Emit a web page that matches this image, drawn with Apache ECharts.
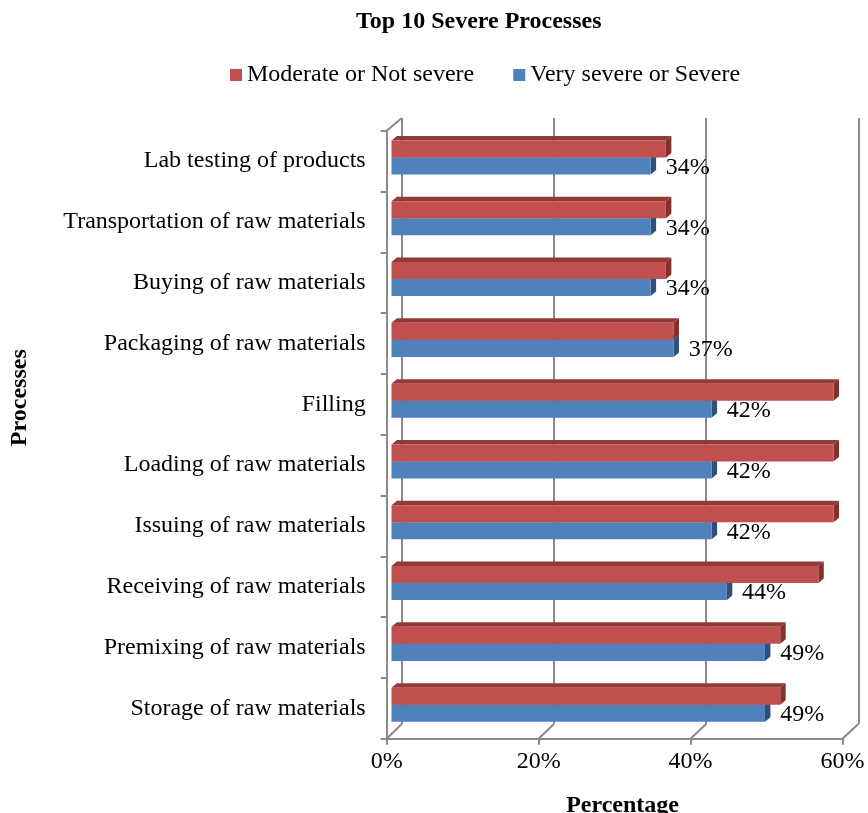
<!DOCTYPE html>
<html>
<head>
<meta charset="utf-8">
<script src="https://cdn.jsdelivr.net/npm/echarts@6/dist/echarts.min.js"></script>
<style>
  html, body { margin: 0; padding: 0; background: #fff; }
  #chart { width: 868px; height: 813px; }
</style>
</head>
<body>
<div id="chart"></div>
<script>
// Processes, listed top to bottom
const processes = [
  'Lab testing of products',
  'Transportation of raw materials',
  'Buying of raw materials',
  'Packaging of raw materials',
  'Filling',
  'Loading of raw materials',
  'Issuing of raw materials',
  'Receiving of raw materials',
  'Premixing of raw materials',
  'Storage of raw materials'
];
// Share of respondents (%)
const verySevere = [34, 34, 34, 37, 42, 42, 42, 44, 49, 49];
const moderate = [36, 36, 36, 37, 58, 58, 58, 56, 51, 51];
const percentTicks = [0, 20, 40, 60];

const seriesNames = ['Moderate or Not severe', 'Very severe or Severe'];
const FONT = "'Liberation Serif', 'Times New Roman', serif";
const FRAME = '#8a8a8a';

// Three overlaid grids: back wall, bars, front edges of the 3-D box
const layout = {
  back:  { left: 401.7, right: 9.7,  top: 118,   bottom: 89 },
  bars:  { left: 391.5, right: 19.2, top: 130.7, bottom: 74.3 },
  front: { left: 386.7, right: 25.5, top: 130.7, bottom: 74.3 }
};

// Extruded bar: front face, top face and right side face
function bar3d(face, top, side, slot, withLabel) {
  return function (params, api) {
    const i = api.value(0);
    const v = api.value(1);
    const p0 = api.coord([0, i]);
    const p1 = api.coord([v, i]);
    const band = api.size([0, 1])[1];
    const h = band * 0.28;
    const dx = band * 0.09, dy = -band * 0.074;
    const split = p0[1] - band * 0.06;
    const y0 = slot === 0 ? split - h : split;
    const y1 = y0 + h;
    const x0 = p0[0], x1 = p1[0];
    const children = [
      { type: 'polygon', shape: { points: [[x0, y0], [x0 + dx, y0 + dy], [x1 + dx, y0 + dy], [x1, y0]] },
        style: { fill: top } },
      { type: 'polygon', shape: { points: [[x1, y0], [x1 + dx, y0 + dy], [x1 + dx, y1 + dy], [x1, y1]] },
        style: { fill: side } },
      { type: 'rect', shape: { x: x0, y: y0, width: x1 - x0, height: h },
        style: { fill: face } }
    ];
    if (withLabel) {
      children.push({
        type: 'text',
        style: {
          x: x1 + band * 0.25, y: (y0 + y1) / 2 + 1.5,
          text: v + '%', fill: '#000', font: '24px ' + FONT,
          textAlign: 'left', textVerticalAlign: 'middle'
        }
      });
    }
    return { type: 'group', children: children };
  };
}

const chart = echarts.init(document.getElementById('chart'), null, { renderer: 'canvas' });

const option = {
  animation: false,
  backgroundColor: '#fff',
  title: {
    text: 'Top 10 Severe Processes',
    left: 356, top: 10, padding: 0,
    textStyle: { fontFamily: FONT, fontSize: 24, fontWeight: 'bold', color: '#000', lineHeight: 24 }
  },
  legend: {
    data: seriesNames,
    left: 230, top: 63, padding: 0,
    icon: 'rect', itemWidth: 12, itemHeight: 12, itemGap: 39,
    textStyle: { fontFamily: FONT, fontSize: 24, color: '#000', lineHeight: 24 }
  },
  grid: [layout.back, layout.bars, layout.front].map(g => Object.assign({ outerBoundsMode: 'none', containLabel: false }, g)),
  xAxis: [
    { gridIndex: 0, type: 'value', min: 0, max: 60, interval: 20,
      axisLine: { show: false }, axisTick: { show: false }, axisLabel: { show: false },
      splitLine: { show: true, lineStyle: { color: FRAME, width: 2 } } },
    { gridIndex: 1, type: 'value', min: 0, max: 60, interval: 20, show: false },
    { gridIndex: 2, type: 'value', min: 0, max: 60, interval: 20,
      name: 'Percentage', nameLocation: 'middle', nameGap: 55,
      nameTextStyle: { fontFamily: FONT, fontSize: 24, fontWeight: 'bold', color: '#000', padding: [0, 0, 0, 16] },
      axisLine: { show: true, lineStyle: { color: FRAME, width: 2 } },
      axisTick: { show: true, length: 6, lineStyle: { color: FRAME, width: 2 } },
      axisLabel: { formatter: '{value}%', margin: 11, fontFamily: FONT, fontSize: 24, color: '#000' },
      splitLine: { show: false } }
  ],
  yAxis: [
    { gridIndex: 0, type: 'value', min: 0, max: 1, show: false },
    { gridIndex: 1, type: 'category', data: processes, inverse: true, show: false },
    { gridIndex: 2, type: 'category', data: processes, inverse: true,
      axisLine: { show: true, lineStyle: { color: FRAME, width: 2 } },
      axisTick: { show: true, length: 6, lineStyle: { color: FRAME, width: 2 } },
      axisLabel: { margin: 21, fontFamily: FONT, fontSize: 24, color: '#000', padding: [6, 0, 0, 0] },
      splitLine: { show: false } }
  ],
  series: [
    {
      name: seriesNames[1], type: 'custom', xAxisIndex: 1, yAxisIndex: 1,
      color: '#4F81BD', z: 3,
      renderItem: bar3d('#4F81BD', '#3A659A', '#2E5079', 1, true),
      encode: { y: 0, x: 1 },
      data: verySevere.map((v, i) => [i, v])
    },
    {
      name: seriesNames[0], type: 'custom', xAxisIndex: 1, yAxisIndex: 1,
      color: '#C0504D', z: 4,
      renderItem: bar3d('#C0504D', '#923A38', '#86302E', 0, false),
      encode: { y: 0, x: 1 },
      data: moderate.map((v, i) => [i, v])
    }
  ]
};
chart.setOption(option);

// Box edges joining the front frame to the back wall
const H = chart.getHeight();
const backBottom = H - layout.back.bottom;
const frontBottom = H - layout.front.bottom;
const edges = percentTicks.map(t => {
  const xb = chart.convertToPixel({ xAxisIndex: 0 }, t);
  const xf = chart.convertToPixel({ xAxisIndex: 2 }, t);
  return { type: 'line', z: 1, shape: { x1: xb, y1: backBottom, x2: xf, y2: frontBottom },
           style: { stroke: FRAME, lineWidth: 2 } };
});
const xb0 = chart.convertToPixel({ xAxisIndex: 0 }, percentTicks[0]);
const xf0 = chart.convertToPixel({ xAxisIndex: 2 }, percentTicks[0]);
edges.push({ type: 'line', z: 1, shape: { x1: xf0, y1: layout.front.top, x2: xb0, y2: layout.back.top },
             style: { stroke: FRAME, lineWidth: 2 } });
edges.push({
  type: 'text', x: 20, y: (layout.front.top + frontBottom) / 2 - 37, rotation: Math.PI / 2,
  style: { text: 'Processes', fill: '#000', font: 'bold 24px ' + FONT,
           textAlign: 'center', textVerticalAlign: 'middle' }
});
chart.setOption({ graphic: edges });
</script>
</body>
</html>
